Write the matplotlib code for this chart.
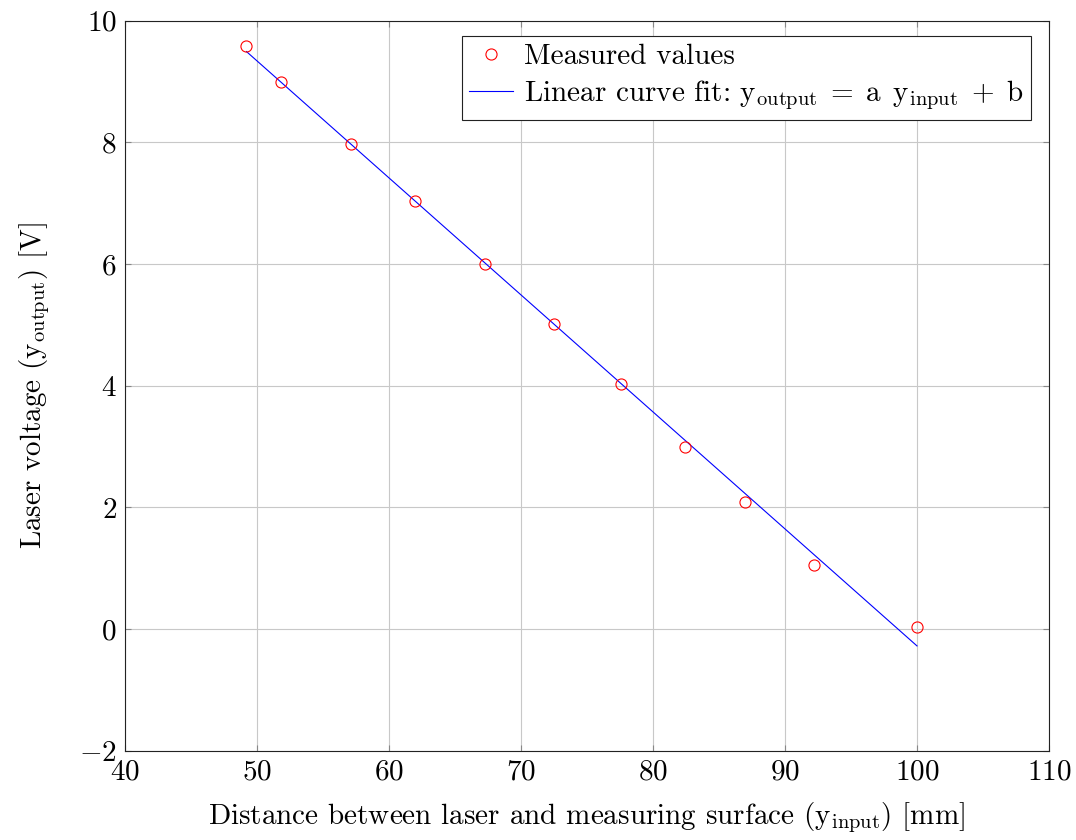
import numpy as np
import matplotlib
matplotlib.use("Agg")
import matplotlib.pyplot as plt

# Measured laser calibration points
distance_mm = [49.2, 51.8, 57.1, 62.0, 67.3, 72.5, 77.6, 82.4, 87.0, 92.2, 100.0]
voltage_v = [9.58, 8.99, 7.98, 7.04, 6.00, 5.02, 4.03, 2.99, 2.09, 1.06, 0.03]

x_ticks = [40, 50, 60, 70, 80, 90, 100, 110]
y_ticks = [-2, 0, 2, 4, 6, 8, 10]

plt.rcParams.update({
    "font.family": "serif",
    "font.serif": ["cmr10"],
    "mathtext.fontset": "cm",
    "axes.formatter.use_mathtext": True,
    "font.size": 21,
    "axes.unicode_minus": True,
})

fig = plt.figure(figsize=(10.76, 8.40), dpi=100)
ax = fig.add_axes([125 / 1076, 1 - 750.7 / 840, 924 / 1076, 730.1 / 840])

x = np.array(distance_mm)
y = np.array(voltage_v)
a, b = np.polyfit(x, y, 1)
x_fit = np.array([x.min(), x.max()])

ax.plot(x, y, linestyle="none", marker="o", markersize=8, markerfacecolor="none",
        markeredgecolor="#ff0000", markeredgewidth=0.8, label="Measured values", zorder=3)
ax.plot(x_fit, a * x_fit + b, color="#0000ff", linewidth=0.8,
        label=r"Linear curve fit: $\mathrm{y}_{\mathrm{output}}\;=\;\mathrm{a}\ \,\mathrm{y}_{\mathrm{input}}\;+\;\mathrm{b}$",
        zorder=2)

ax.set_xlim(40, 110)
ax.set_ylim(-2, 10)
ax.set_xticks(x_ticks)
ax.set_yticks(y_ticks)
ax.grid(True, color="#c8c8c8", linewidth=0.8)
ax.set_axisbelow(True)
for s in ax.spines.values():
    s.set_color("#222222")
    s.set_linewidth(0.8)
ax.tick_params(direction="in", length=4.5, width=0.8, color="#888888",
               top=True, right=True, pad=6)

ax.set_xlabel(r"Distance between laser and measuring surface ($\mathrm{y}_{\mathrm{input}}$) [mm]",
              labelpad=11)
ax.set_ylabel(r"Laser voltage ($\mathrm{y}_{\mathrm{output}}$) [V]", labelpad=19)

leg = ax.legend(loc="upper right", bbox_to_anchor=(1 - 18 / 924, 1 - 15.5 / 730.1),
                borderaxespad=0, fancybox=False, framealpha=1, edgecolor="#222222",
                handlelength=1.5, handletextpad=0.4, borderpad=0.25, labelspacing=0.3)
leg.get_frame().set_linewidth(0.8)

fig.savefig("out.png", dpi=100)
